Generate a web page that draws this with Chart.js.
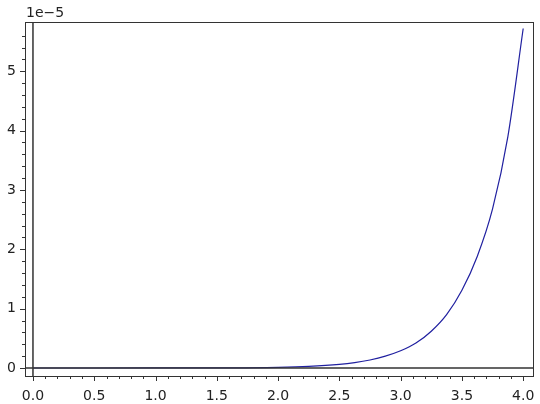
<!DOCTYPE html>
<html><head><meta charset="utf-8">
<script src="https://cdn.jsdelivr.net/npm/chart.js@4/dist/chart.umd.min.js"></script>
<style>html,body{margin:0;background:#fff}#wrap{width:540px;height:404px}</style>
</head><body><div id="wrap"><canvas id="c" width="540" height="404"></canvas></div>
<script>
// curve samples (y in units of 1e-5)
const xs = [0, 0.5, 1.0, 1.5, 2.0, 2.25, 2.5, 2.625, 2.75, 2.875, 3.0, 3.125, 3.25, 3.375, 3.5, 3.625, 3.75, 3.875, 4.0];
const ys = [0, 0.00003, 0.0003, 0.002, 0.012, 0.027, 0.06, 0.09, 0.135, 0.2, 0.29, 0.42, 0.62, 0.9, 1.31, 1.88, 2.68, 3.9, 5.72];
const xLabels = [0, 0.5, 1, 1.5, 2, 2.5, 3, 3.5, 4];
const yLabels = [0, 1, 2, 3, 4, 5];

const FONT = '14px "DejaVu Sans"';
const INK = '#333';

const axesPlugin = {
  id: 'sageAxes',
  afterDraw(chart) {
    const { ctx, chartArea: a, scales: { x, y } } = chart;
    ctx.save();
    ctx.strokeStyle = INK;
    ctx.lineWidth = 1;
    // frame
    ctx.strokeRect(a.left + 0.5, a.top + 0.5, a.right - a.left, a.bottom - a.top);
    // axis lines through origin
    ctx.lineWidth = 1.5;
    const x0 = x.getPixelForValue(0), y0 = y.getPixelForValue(0);
    ctx.beginPath();
    ctx.moveTo(x0, a.top); ctx.lineTo(x0, a.bottom);
    ctx.moveTo(a.left, y0); ctx.lineTo(a.right, y0);
    ctx.stroke();
    // ticks
    ctx.lineWidth = 1;
    ctx.beginPath();
    for (let i = 0; i <= 40; i++) {
      const px = Math.round(x.getPixelForValue(i / 10)) + 0.5;
      const len = i % 5 === 0 ? 5 : 3;
      ctx.moveTo(px, a.bottom); ctx.lineTo(px, a.bottom + len);
    }
    for (let i = 0; i <= 28; i++) {
      const py = Math.round(y.getPixelForValue(i / 5)) + 0.5;
      const len = i % 5 === 0 ? 5 : 3;
      ctx.moveTo(a.left, py); ctx.lineTo(a.left - len, py);
    }
    ctx.stroke();
    ctx.fillStyle = '#222';
    ctx.font = FONT;
    // y tick labels
    ctx.textAlign = 'right';
    ctx.textBaseline = 'middle';
    yLabels.forEach(v => ctx.fillText(String(v), a.left - 9, y.getPixelForValue(v)));
    ctx.textAlign = 'left';
    ctx.textBaseline = 'alphabetic';
    ctx.fillText('1e\u22125', a.left + 1, a.top - 5);
    ctx.restore();
  }
};

new Chart(document.getElementById('c'), {
  type: 'line',
  data: {
    datasets: [{
      data: xs.map((v, i) => ({ x: v, y: ys[i] })),
      borderColor: '#2020a0',
      borderWidth: 1.2,
      pointRadius: 0,
      cubicInterpolationMode: 'monotone',
      fill: false
    }]
  },
  options: {
    responsive: false,
    animation: false,
    layout: { padding: { top: 22, right: 7, left: 0, bottom: 0 } },
    plugins: { legend: { display: false }, tooltip: { enabled: false } },
    scales: {
      x: {
        type: 'linear', min: -0.065, max: 4.08,
        afterFit: s => { s.height = 28; },
        afterBuildTicks: s => { s.ticks = xLabels.map(v => ({ value: v })); },
        ticks: { font: { family: 'DejaVu Sans', size: 14 }, color: '#222', padding: 4, maxRotation: 0,
                 callback: v => v.toFixed(1) },
        grid: { display: false }, border: { display: false }
      },
      y: {
        type: 'linear', min: -0.135, max: 5.83,
        afterFit: s => { s.width = 25; },
        ticks: { display: false },
        grid: { display: false }, border: { display: false }
      }
    }
  },
  plugins: [axesPlugin]
});
</script></body></html>
